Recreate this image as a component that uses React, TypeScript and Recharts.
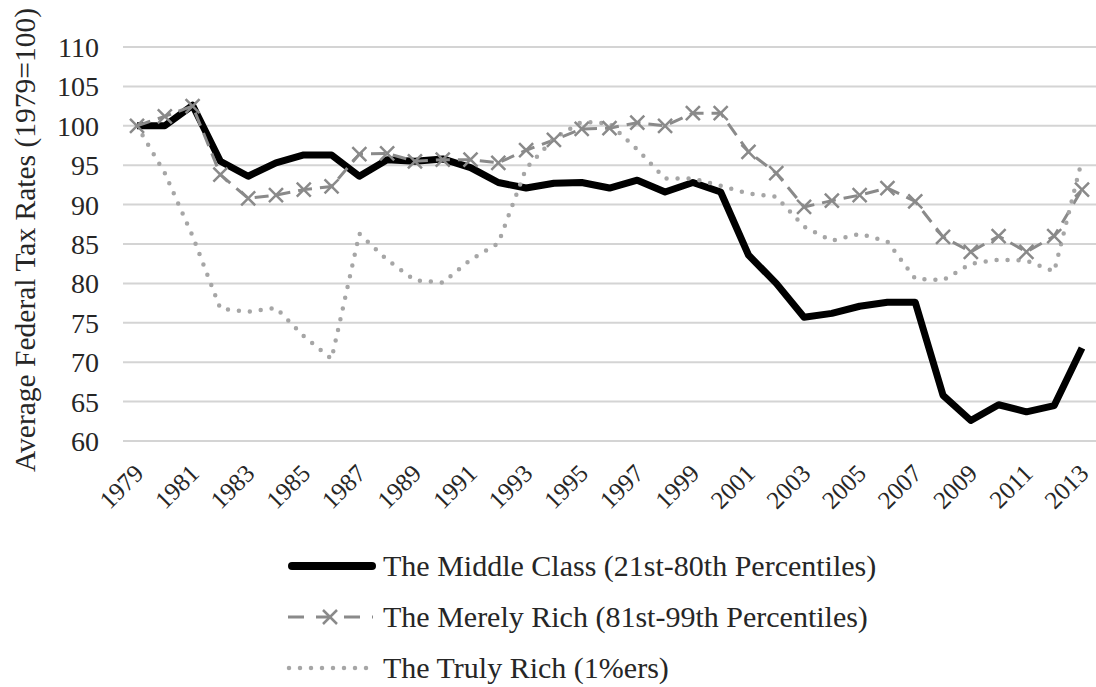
import { LineChart, Line, XAxis, YAxis, CartesianGrid } from "recharts";

const years = [
  "1979", "1980", "1981", "1982", "1983", "1984", "1985", "1986", "1987",
  "1988", "1989", "1990", "1991", "1992", "1993", "1994", "1995", "1996",
  "1997", "1998", "1999", "2000", "2001", "2002", "2003", "2004", "2005",
  "2006", "2007", "2008", "2009", "2010", "2011", "2012", "2013",
];

const middleClass = [
  100, 100, 102.6, 95.5, 93.6, 95.3, 96.3, 96.3, 93.6, 95.7, 95.5, 95.8,
  94.7, 92.8, 92.1, 92.7, 92.8, 92.1, 93.1, 91.6, 92.8, 91.6, 83.6, 80.0,
  75.7, 76.2, 77.1, 77.6, 77.6, 65.8, 62.6, 64.6, 63.7, 64.5, 71.8,
];

const merelyRich = [
  100, 101.2, 102.5, 93.8, 90.8, 91.2, 91.9, 92.3, 96.4, 96.5, 95.5, 95.7,
  95.7, 95.3, 96.9, 98.2, 99.6, 99.7, 100.4, 100.0, 101.6, 101.6, 96.7, 94.0,
  89.7, 90.5, 91.2, 92.1, 90.4, 85.9, 84.0, 86.0, 84.0, 86.0, 91.9,
];

const trulyRich = [
  100, 94.0, 86.0, 76.8, 76.4, 76.9, 73.3, 70.4, 86.3, 83.0, 80.4, 80.1,
  83.0, 85.1, 94.6, 98.4, 100.5, 100.3, 97.0, 93.3, 93.3, 92.4, 91.4, 91.0,
  87.2, 85.4, 86.3, 85.3, 80.6, 80.4, 82.5, 83.0, 82.9, 81.5, 95.7,
];

const yTicks = [60, 65, 70, 75, 80, 85, 90, 95, 100, 105, 110];

const data = years.map((year, i) => ({
  year,
  middle: middleClass[i],
  merely: merelyRich[i],
  truly: trulyRich[i],
}));

const FONT = '"Liberation Serif", "DejaVu Serif", serif';
const TEXT = "#262626";

const XDot = (props: any) => {
  const { cx, cy } = props;
  if (cx == null || cy == null) return null;
  const s = 7;
  return (
    <path
      d={`M${cx - s},${cy - s}L${cx + s},${cy + s}M${cx - s},${cy + s}L${cx + s},${cy - s}`}
      stroke="#8a8a8a"
      strokeWidth={2.5}
      fill="none"
    />
  );
};

const YearTick = (props: any) => {
  const { x, y, payload } = props;
  return (
    <text
      transform={`translate(${x + 8},${y + 26}) rotate(-45)`}
      textAnchor="end"
      fontSize={25}
      fontFamily={FONT}
      fill={TEXT}
    >
      {payload.value}
    </text>
  );
};

const LegendRow = ({ kind, label }: { kind: string; label: string }) => (
  <div style={{ display: "flex", alignItems: "center", height: 51 }}>
    <svg width={96} height={20} style={{ marginRight: 3 }}>
      {kind === "middle" && (
        <line x1={8} y1={10} x2={88} y2={10} stroke="#000" strokeWidth={8} strokeLinecap="round" />
      )}
      {kind === "merely" && (
        <g>
          <line x1={4} y1={10} x2={89} y2={10} stroke="#8a8a8a" strokeWidth={3} strokeDasharray="16 12" />
          <XDot cx={46} cy={10} />
        </g>
      )}
      {kind === "truly" && (
        <line x1={5} y1={10} x2={89} y2={10} stroke="#a6a6a6" strokeWidth={4.5} strokeDasharray="0 11" strokeLinecap="round" />
      )}
    </svg>
    <span>{label}</span>
  </div>
);

export default function App() {
  return (
    <div style={{ position: "absolute", left: 0, top: 0, width: 1096, height: 687, background: "#fff" }}>
      <LineChart width={1096} height={531} data={data} margin={{ top: 47, right: 0, left: 0, bottom: 0 }}>
        <CartesianGrid vertical={false} stroke="#d4d4d4" strokeWidth={2} />
        <XAxis
          dataKey="year"
          interval={1}
          tick={<YearTick />}
          tickLine={false}
          axisLine={false}
          height={90}
          padding={{ left: 14, right: 14 }}
        />
        <YAxis
          domain={[60, 110]}
          ticks={yTicks}
          width={123}
          tickLine={false}
          axisLine={false}
          tickSize={0}
          tickMargin={24}
          tick={{ fontSize: 28, fontFamily: FONT, fill: TEXT }}
          label={{
            content: (p: any) => {
              const vb = p.viewBox || { y: 47, height: 394 };
              const cy = vb.y + vb.height / 2;
              return (
                <text
                  transform={`translate(35,${cy - 4}) rotate(-90)`}
                  textAnchor="middle"
                  fontSize={29.5}
                  fontFamily={FONT}
                  fill={TEXT}
                >
                  Average Federal Tax Rates (1979=100)
                </text>
              );
            },
          }}
        />
        <Line
          dataKey="middle"
          stroke="#000"
          strokeWidth={7}
          strokeLinejoin="round"
          dot={false}
          isAnimationActive={false}
        />
        <Line
          dataKey="merely"
          stroke="#8a8a8a"
          strokeWidth={3}
          strokeDasharray="14 8"
          dot={<XDot />}
          isAnimationActive={false}
        />
        <Line
          dataKey="truly"
          stroke="#a6a6a6"
          strokeWidth={4.5}
          strokeDasharray="0 11"
          strokeLinecap="round"
          dot={false}
          isAnimationActive={false}
        />
      </LineChart>
      <div
        style={{
          position: "absolute",
          left: 284,
          top: 540,
          fontFamily: FONT,
          fontSize: 30,
          color: TEXT,
        }}
      >
        <LegendRow kind="middle" label="The Middle Class (21st-80th Percentiles)" />
        <LegendRow kind="merely" label="The Merely Rich (81st-99th Percentiles)" />
        <LegendRow kind="truly" label="The Truly Rich (1%ers)" />
      </div>
    </div>
  );
}
